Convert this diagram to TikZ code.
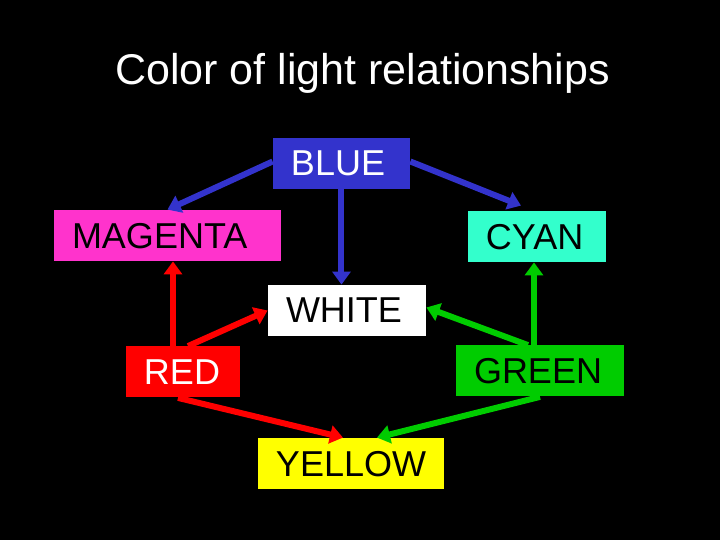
\documentclass[tikz,border=0pt]{standalone}
\usepackage{fontspec}
\setmainfont{Liberation Sans}
\usetikzlibrary{calc, positioning, arrows.meta}
\definecolor{lblue}{RGB}{51,51,204}
\definecolor{lmagenta}{RGB}{255,51,204}
\definecolor{lcyan}{RGB}{51,255,204}
\definecolor{lred}{RGB}{255,0,0}
\definecolor{lgreen}{RGB}{0,204,0}
\definecolor{lyellow}{RGB}{255,255,0}

\begin{document}
\begin{tikzpicture}
                      [x=0.5pt, y=-0.5pt,
                       colorbox/.style={rectangle, inner xsep=9pt, inner ysep=0pt,
                         minimum height=25.5pt, align=left, text depth=0pt,
                         font=\fontsize{18}{20}\selectfont},
                       lightarrow/.style={-{Triangle[length=6.5pt,width=9pt]}, line width=3pt, draw=#1}]
                      \fill[black] (0,0) rectangle (720,540);
                      \useasboundingbox (0,0) rectangle (720,540);

                      % title %
                      \node[text=white, anchor=base, font=\fontsize{21.5}{24}\selectfont] (title) at (362.5,85) {Color of light relationships};

                      % nodes %
                      \node[colorbox, fill=lblue, text=white, text width=50.5pt] (blue) at (341.5,163.5) {BLUE};
                      \node[colorbox, fill=lmagenta, text=black, text width=95.5pt] (magenta) at (167.5,235.5) {MAGENTA};
                      \node[colorbox, fill=lcyan, text=black, text width=51pt] (cyan) at (537,236.5) {CYAN};
                      \node[colorbox, fill=white, text=black, text width=61pt] (white) at (347,310.5) {WHITE};
                      \node[colorbox, fill=lred, text=white, text width=39pt] (red) at (183,372) {RED};
                      \node[colorbox, fill=lgreen, text=black, text width=66pt] (green) at (540,371) {GREEN};
                      \node[colorbox, fill=lyellow, text=black, text width=75pt] (yellow) at (351,463.5) {YELLOW};

                      % edges %
                      \draw[lightarrow=lblue] ([yshift=1pt]blue.west) -- (magenta.north);
                      \draw[lightarrow=lblue] ([yshift=1pt]blue.east) -- ([xshift=-8pt,yshift=2.5pt]cyan.north);
                      \draw[lightarrow=lblue] (blue.south) -- (blue.south |- white.north);
                      \draw[lightarrow=lred] ([xshift=-5pt]red.north) -- ([xshift=-5pt]red.north |- magenta.south);
                      \draw[lightarrow=lred] ([xshift=2.5pt]red.north) -- (white.west);
                      \draw[lightarrow=lred] ([xshift=-2.5pt]red.south) -- ([xshift=-4pt]yellow.north);
                      \draw[lightarrow=lgreen] ([xshift=-3pt]green.north) -- ([xshift=-3pt]green.north |- cyan.south);
                      \draw[lightarrow=lgreen] ([xshift=-6pt]green.north) -- ([yshift=1.5pt]white.east);
                      \draw[lightarrow=lgreen] (green.south) -- ([xshift=13pt]yellow.north);
                    \end{tikzpicture}
\end{document}
